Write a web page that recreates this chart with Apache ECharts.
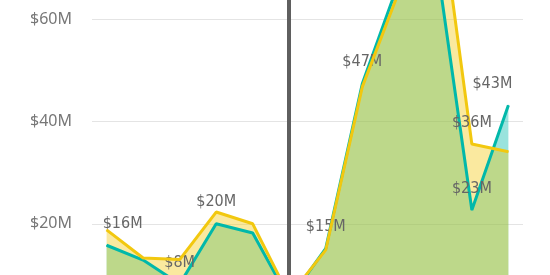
<!DOCTYPE html>
<html>
<head>
<meta charset="utf-8">
<script src="https://cdn.jsdelivr.net/npm/echarts@6/dist/echarts.min.js"></script>
<style>
html,body{margin:0;padding:0;background:#fff;overflow:hidden;width:550px;height:275px;}
#c{position:absolute;left:0;top:-185px;width:550px;height:511px;}
</style>
</head>
<body>
<div id="c"></div>
<script>
// Month index positions (0..11)
var categories = [0, 1, 2, 3, 4, 5, 6, 7, 8, 9, 10, 11];
// Values in $M
var tealValues   = [15.8, 12.9, 8.2, 20.0, 18.2, 5.2, 15.2, 47.4, 67.3, 73.0, 22.7, 43.2];
var yellowValues = [18.8, 13.3, 13.0, 22.3, 20.0, 5.8, 14.9, 46.8, 65.4, 89.0, 35.6, 34.1];
var yTicks = [0, 20, 40, 60, 80, 100];
var markerIndex = 5;
var tealLabelIdx = [0, 2, 3, 6, 7, 10, 11];
var yellowLabelIdx = [10];

var TEAL = '#01B8AA', YELLOW = '#F2C80F';
var labelFont = '"DejaVu Sans Condensed", "Liberation Sans Narrow", "Noto Sans", sans-serif';

function pairs(vals){ return categories.map(function(c,i){ return [c, vals[i]]; }); }
function labeled(vals, idx, offsets){
  return categories.map(function(c,i){
    var d = {value:[c, vals[i]]};
    if (idx.indexOf(i) >= 0) {
      d.label = {show:true};
      if (offsets && offsets[i]) d.label.offset = offsets[i];
    }
    return d;
  });
}
var fmt = function(p){ return '$' + Math.round(p.value[1]) + 'M'; };
var baseLabel = {show:false, position:'top', distance:13, formatter:fmt,
  fontFamily:labelFont, fontSize:16, color:'#666'};

var chart = echarts.init(document.getElementById('c'));
chart.setOption({
  animation:false,
  backgroundColor:'#fff',
  grid:{left:92, right:27, top:0, bottom:0, containLabel:false, outerBoundsMode:'none'},
  xAxis:{type:'value', min:-0.4, max:11.4, show:false},
  yAxis:{type:'value', min:yTicks[0], max:yTicks[yTicks.length-1], interval:20,
    axisLine:{show:false}, axisTick:{show:false},
    splitLine:{lineStyle:{color:'#e4e4e4', width:1}},
    axisLabel:{margin:20, color:'#777', fontSize:16, fontFamily:'"Noto Sans", sans-serif',
      formatter:function(v){ return '$' + v + 'M'; }}},
  series:[
    {type:'line', data:pairs(tealValues), showSymbol:false, lineStyle:{width:0},
     areaStyle:{color:TEAL, opacity:0.4}, silent:true, z:1},
    {type:'line', data:pairs(yellowValues), showSymbol:false, lineStyle:{width:0},
     areaStyle:{color:YELLOW, opacity:0.4}, silent:true, z:2},
    {type:'line', data:labeled(tealValues, tealLabelIdx, {0:[16,0], 11:[-16,0]}),
     symbol:'circle', symbolSize:1, showSymbol:true, itemStyle:{color:TEAL},
     lineStyle:{color:TEAL, width:3}, label:baseLabel, silent:true, z:3,
     markLine:{silent:true, symbol:'none', label:{show:false},
       lineStyle:{color:'#5f5f5f', width:4, type:'solid'},
       data:[{xAxis:markerIndex}]}},
    {type:'line', data:labeled(yellowValues, yellowLabelIdx),
     symbol:'circle', symbolSize:1, showSymbol:true, itemStyle:{color:YELLOW},
     lineStyle:{color:YELLOW, width:3}, label:baseLabel, silent:true, z:4}
  ]
});
</script>
</body>
</html>
